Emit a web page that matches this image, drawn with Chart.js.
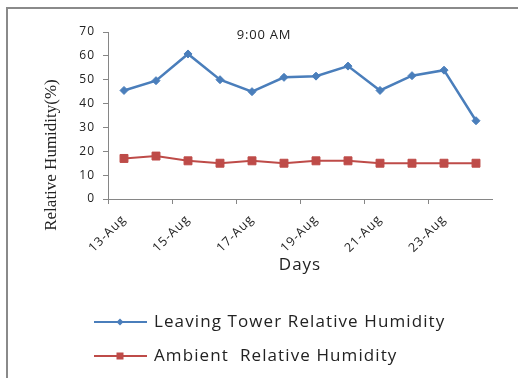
<!DOCTYPE html>
<html>
<head>
<meta charset="utf-8">
<title>Relative Humidity at 9:00 AM</title>
<script src="https://cdn.jsdelivr.net/npm/chart.js@4/dist/chart.umd.min.js"></script>
<style>
  html, body { margin: 0; padding: 0; background: #ffffff; }
  #wrap { position: relative; width: 518px; height: 378px; overflow: hidden; }
  #frame { position: absolute; left: 6px; top: 7px; width: 600px; height: 400px; border: 2px solid #8a8a8a; box-sizing: border-box; }
  #chart { position: absolute; left: 0; top: 0; }
</style>
</head>
<body>
<div id="wrap">
  <div id="frame"></div>
  <canvas id="chart" width="518" height="378"></canvas>
</div>
<script>
// Days of the measurement campaign
const days = ['13-Aug', '14-Aug', '15-Aug', '16-Aug', '17-Aug', '18-Aug',
              '19-Aug', '20-Aug', '21-Aug', '22-Aug', '23-Aug', '24-Aug'];

// Relative humidity (%) at 9:00 AM
const leavingTowerRH = [45.5, 49.6, 60.8, 50, 45, 51, 51.5, 55.7, 45.5, 51.7, 54, 32.8];
const ambientRH      = [17, 18, 16, 15, 16, 15, 16, 16, 15, 15, 15, 15];

// Tick values of the humidity scale
const yTicks = [0, 10, 20, 30, 40, 50, 60, 70];

const headingText = '9:00 AM';
const yAxisTitle = 'Relative Humidity(%)';
const xAxisTitle = 'Days';

const BLUE = '#4a7ebb';
const RED = '#be4b48';
const AXIS = '#868686';
const TEXT = '#222222';
const SANS = '"Open Sans", "DejaVu Sans", sans-serif';

// Slightly open letter spacing for the sans-serif chart text
const spacing = {
  id: 'spacing',
  beforeLayout(chart) { chart.ctx.letterSpacing = '1px'; },
  beforeDraw(chart) { chart.ctx.letterSpacing = '1px'; }
};

// Heading, rotated value-axis title and a stacked legend drawn on top of the chart
const annotations = {
  id: 'annotations',
  afterDraw(chart) {
    const ctx = chart.ctx;
    const area = chart.chartArea;
    ctx.save();

    ctx.fillStyle = TEXT;
    ctx.letterSpacing = '0.8px';
    ctx.font = '13px ' + SANS;
    ctx.textAlign = 'center';
    ctx.textBaseline = 'middle';
    ctx.fillText(headingText, 264, area.top + 3);

    ctx.save();
    ctx.letterSpacing = '0px';
    ctx.translate(52, 155);
    ctx.rotate(-Math.PI / 2);
    ctx.font = '17px "Liberation Serif", "Times New Roman", serif';
    ctx.fillText(yAxisTitle, 0, 0);
    ctx.restore();

    chart.data.datasets.forEach((ds, i) => {
      const y = 322 + i * 34;
      ctx.strokeStyle = ds.borderColor;
      ctx.lineWidth = 2;
      ctx.beginPath();
      ctx.moveTo(94, y);
      ctx.lineTo(147, y);
      ctx.stroke();
      ctx.fillStyle = ds.borderColor;
      if (ds.pointStyle === 'rectRot') {
        ctx.beginPath();
        ctx.moveTo(120, y - 3.5);
        ctx.lineTo(123.5, y);
        ctx.lineTo(120, y + 3.5);
        ctx.lineTo(116.5, y);
        ctx.closePath();
        ctx.fill();
      } else {
        ctx.fillRect(116.5, y - 3.5, 7, 7);
      }
      ctx.fillStyle = TEXT;
      ctx.letterSpacing = '1.1px';
      ctx.font = '17px ' + SANS;
      ctx.textAlign = 'left';
      ctx.textBaseline = 'middle';
      ctx.fillText(ds.label, 154, y);
    });

    ctx.restore();
  }
};

new Chart(document.getElementById('chart'), {
  type: 'line',
  data: {
    labels: days,
    datasets: [
      {
        label: 'Leaving Tower Relative Humidity',
        data: leavingTowerRH,
        borderColor: BLUE,
        backgroundColor: BLUE,
        borderWidth: 2.5,
        pointStyle: 'rectRot',
        pointRadius: 4,
        pointBorderWidth: 1,
        tension: 0
      },
      {
        label: 'Ambient  Relative Humidity',
        data: ambientRH,
        borderColor: RED,
        backgroundColor: RED,
        borderWidth: 2,
        pointStyle: 'rect',
        pointRadius: 5.6,
        pointBorderWidth: 1,
        tension: 0
      }
    ]
  },
  options: {
    responsive: false,
    animation: false,
    devicePixelRatio: 1,
    layout: { padding: { left: 0, top: 32, right: 26, bottom: 99 } },
    plugins: {
      legend: { display: false },
      title: { display: false },
      tooltip: { enabled: false }
    },
    scales: {
      x: {
        type: 'category',
        offset: true,
        afterFit(scale) { scale.height = 80; },
        border: { display: true, color: AXIS, width: 1 },
        grid: {
          offset: true,
          drawOnChartArea: false,
          drawTicks: true,
          tickLength: 5,
          color: (c) => (c.index % 2 === 0 ? AXIS : 'rgba(0,0,0,0)')
        },
        ticks: {
          autoSkip: false,
          minRotation: 45,
          maxRotation: 45,
          padding: 8,
          color: TEXT,
          font: { family: SANS, size: 12.5 },
          callback: (value, index) => (index % 2 === 0 ? days[index] : '')
        },
        title: {
          display: true,
          text: xAxisTitle,
          color: TEXT,
          font: { family: SANS, size: 17 },
          padding: { top: 4, bottom: 4 }
        }
      },
      y: {
        min: yTicks[0],
        max: yTicks[yTicks.length - 1],
        afterFit(scale) { scale.width = 108; },
        afterBuildTicks(scale) { scale.ticks = yTicks.map(v => ({ value: v })); },
        border: { display: true, color: AXIS, width: 1 },
        grid: {
          drawOnChartArea: false,
          drawTicks: true,
          tickLength: 5,
          color: AXIS
        },
        ticks: {
          padding: 8,
          color: TEXT,
          font: { family: SANS, size: 12 }
        }
      }
    }
  },
  plugins: [spacing, annotations]
});
</script>
</body>
</html>
